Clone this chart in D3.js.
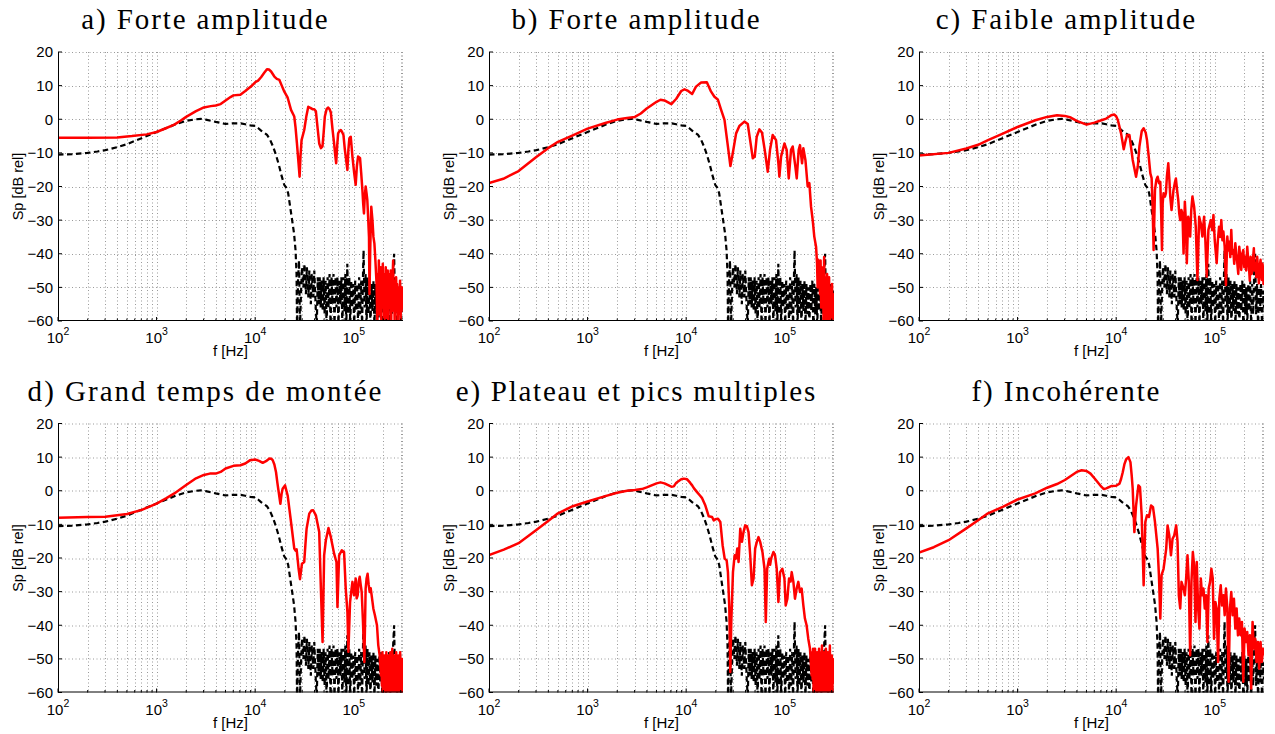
<!DOCTYPE html>
<html><head><meta charset="utf-8">
<script src="https://cdn.jsdelivr.net/npm/d3@7"></script>
<style>body{margin:0;background:#fff}</style>
</head><body>
<svg id="chart" width="1275" height="734"></svg>
<script>
// Each point: [log10(frequency in Hz), level in dB rel]
const panelTitles = ["a) Forte amplitude", "b) Forte amplitude", "c) Faible amplitude",
  "d) Grand temps de montée", "e) Plateau et pics multiples", "f) Incohérente"];
const xTickExponents = [2, 3, 4, 5];
const yTicks = [-60, -50, -40, -30, -20, -10, 0, 10, 20];
const xLabel = "f [Hz]";
const yLabel = "Sp [dB rel]";

// reference spectrum (black dashed), identical in every panel
const refSpectrum = [[2.00,-10.5],[2.15,-10.4],[2.30,-10.0],[2.40,-9.6],[2.48,-9.2],[2.60,-8.3],[2.70,-7.4],[2.80,-6.2],[2.90,-5.0],[3.00,-3.8],[3.10,-2.6],[3.20,-1.4],[3.30,-0.5],[3.40,0.0],[3.45,0.1],[3.50,-0.1],[3.60,-0.8],[3.70,-1.4],[3.78,-1.2],[3.85,-1.2],[3.90,-1.5],[3.95,-1.8],[4.00,-2.0],[4.03,-2.6],[4.06,-3.4],[4.09,-4.0],[4.12,-4.6],[4.15,-6.0],[4.18,-8.0],[4.21,-10.5],[4.24,-13.5],[4.27,-17.0],[4.295,-19.5],[4.315,-20.3],[4.335,-22.0],[4.355,-26.0],[4.375,-30.0],[4.395,-34.0],[4.41,-39.0],
 [4.42,-46],[4.425,-62],[4.435,-48],[4.445,-42],[4.455,-62],[4.465,-52],[4.475,-44],[4.49,-50],[4.50,-43],[4.515,-52],[4.525,-44],[4.54,-53],[4.55,-45],[4.565,-55],[4.575,-46],[4.59,-53],[4.60,-45],[4.615,-56],[4.625,-62],[4.635,-47],[4.645,-55],[4.655,-47],[4.665,-56],[4.675,-48],[4.685,-57],[4.695,-47],[4.705,-58],[4.715,-48],[4.725,-62],[4.735,-47],[4.745,-56],[4.755,-46],[4.765,-62],[4.775,-47],[4.785,-55],[4.795,-46],[4.805,-62],[4.815,-47],[4.825,-56],[4.835,-47],[4.845,-62],[4.855,-48],[4.865,-55],[4.875,-47],[4.885,-62],[4.895,-47],[4.905,-57],[4.915,-46],[4.925,-62],[4.935,-43],[4.945,-58],[4.955,-47],[4.965,-62],[4.975,-48],[4.985,-56],[4.995,-49],[5.005,-62],[5.015,-48],[5.025,-57],[5.035,-49],[5.045,-62],[5.055,-47],[5.065,-58],[5.075,-48],[5.085,-62],[5.095,-45],[5.10,-39],[5.11,-56],[5.12,-46],[5.13,-62],[5.14,-47],[5.15,-58],[5.16,-48],[5.17,-62],[5.18,-49],[5.19,-57],[5.20,-48],[5.21,-62],[5.22,-49],[5.23,-58],[5.24,-50],[5.25,-62],[5.26,-49],[5.27,-57],[5.28,-48],[5.29,-62],[5.30,-49],[5.31,-58],[5.32,-50],[5.33,-62],[5.34,-49],[5.35,-57],[5.36,-48],[5.37,-62],[5.38,-49],[5.39,-58],[5.40,-46],[5.41,-40],[5.42,-58],[5.43,-49],[5.44,-62],[5.45,-50],[5.46,-57],[5.47,-49],[5.48,-62],[5.49,-51],[5.50,-56]];

const redA = [[2.00,-5.5],[2.30,-5.5],[2.60,-5.4],[2.75,-5.0],[2.90,-4.5],[3.00,-3.8],[3.10,-2.6],[3.18,-1.6],[3.25,-0.3],[3.30,0.7],[3.40,2.4],[3.48,3.5],[3.55,3.9],[3.60,4.1],[3.65,4.5],[3.70,5.6],[3.75,6.6],[3.78,7.1],[3.85,7.3],[3.90,8.4],[3.96,9.8],[4.00,11.0],[4.03,11.5],[4.06,12.5],[4.094,13.9],[4.12,14.9],[4.14,14.8],[4.162,14.2],[4.195,12.7],[4.22,12.0],[4.246,11.7],[4.27,10.0],[4.296,8.2],[4.33,6.4],[4.364,2.8],[4.397,0.8],[4.41,-2.5],[4.424,-7.2],[4.44,-13],[4.451,-17.1],[4.46,-11],[4.471,-6.2],[4.498,-3.2],[4.52,1],[4.539,3.7],[4.56,3.4],[4.582,3.0],[4.60,3.0],[4.616,2.4],[4.635,-3],[4.65,-7.2],[4.667,-8.6],[4.683,-8.1],[4.695,-4],[4.707,0.8],[4.725,3.0],[4.74,3.5],[4.755,3.0],[4.768,2.0],[4.785,-3],[4.801,-7.2],[4.812,-10.5],[4.822,-13.1],[4.832,-8],[4.842,-4.2],[4.855,-3.5],[4.869,-3.2],[4.882,-3.8],[4.896,-4.7],[4.91,-9],[4.923,-12.1],[4.936,-15.1],[4.946,-9],[4.956,-5.7],[4.97,-5.2],[4.987,-11.1],[5.005,-16],[5.02,-19.5],[5.032,-14],[5.044,-11.1],[5.064,-11.5],[5.076,-16],[5.088,-21],[5.096,-25],[5.104,-28],[5.112,-23],[5.121,-20],[5.13,-22],[5.138,-24],[5.146,-29],[5.155,-35],[5.16,-52],[5.168,-38],[5.178,-26],[5.19,-30],[5.2,-35],[5.21,-37],[5.22,-42],[5.232,-49],
 [5.240,-62],[5.245,-46],[5.250,-55],[5.255,-42],[5.260,-58],[5.265,-47],[5.270,-52],[5.275,-44],[5.280,-60],[5.285,-48],[5.290,-56],[5.295,-43],[5.300,-53],[5.305,-46],[5.310,-62],[5.315,-49],[5.320,-55],[5.325,-44],[5.330,-59],[5.335,-47],[5.340,-54],[5.345,-45],[5.350,-61],[5.355,-48],[5.360,-56],[5.365,-46],[5.370,-52],[5.375,-45],[5.380,-62],[5.385,-50],[5.390,-57],[5.395,-47],[5.400,-42],[5.405,-55],[5.410,-48],[5.415,-60],[5.420,-51],[5.425,-57],[5.430,-47],[5.435,-54],[5.440,-49],[5.445,-62],[5.450,-51],[5.455,-58],[5.460,-50],[5.465,-55],[5.470,-48],[5.475,-61],[5.480,-52],[5.485,-57],[5.490,-50],[5.495,-56],[5.500,-52]];

const redB = [[2.00,-19],[2.145,-17.7],[2.30,-15.4],[2.48,-11.2],[2.60,-8.6],[2.70,-6.7],[2.85,-4.8],[3.00,-2.8],[3.18,-1.1],[3.30,-0.1],[3.40,0.4],[3.48,0.7],[3.54,1.7],[3.60,3.2],[3.70,5.2],[3.74,5.8],[3.78,5.6],[3.85,4.5],[3.90,6.1],[3.95,8.4],[3.983,8.9],[4.017,8.5],[4.061,7.5],[4.10,9.7],[4.152,10.9],[4.21,11.0],[4.253,8.2],[4.287,6.7],[4.321,5.9],[4.355,2.8],[4.389,-0.2],[4.422,-7.7],[4.449,-13.9],[4.473,-10.1],[4.507,-4.2],[4.54,-2.0],[4.591,-0.7],[4.625,-1.4],[4.649,-6.2],[4.676,-11.6],[4.696,-11.1],[4.716,-5.2],[4.743,-3.0],[4.77,-4.0],[4.797,-9.1],[4.828,-15.6],[4.851,-9.1],[4.878,-4.7],[4.912,-6.2],[4.936,-13.1],[4.946,-17.1],[4.963,-11.1],[4.997,-7.2],[5.02,-9.1],[5.041,-17.6],[5.064,-9.1],[5.081,-8.1],[5.108,-14.1],[5.122,-17.6],[5.142,-9.1],[5.155,-7.7],[5.176,-13.1],[5.189,-8.6],[5.21,-12.1],[5.233,-20],[5.25,-19],[5.267,-26],[5.284,-30],[5.30,-34.9],[5.318,-37.9],
 [5.328,-42.8],[5.334,-50],[5.34,-41.8],[5.346,-47],[5.352,-44],[5.358,-52],[5.364,-42],[5.37,-56],[5.376,-46],[5.382,-53],[5.388,-44],[5.394,-60],[5.40,-41],[5.405,-55],[5.41,-47],[5.415,-62],[5.42,-48],[5.425,-56],[5.43,-46],[5.435,-62],[5.44,-49],[5.445,-57],[5.45,-47],[5.455,-60],[5.46,-50],[5.465,-62],[5.47,-51],[5.475,-58],[5.48,-49],[5.485,-62],[5.49,-52],[5.495,-59],[5.50,-55]];

const redC = [[2.00,-10.8],[2.30,-10.0],[2.48,-8.7],[2.60,-7.6],[2.70,-6.2],[2.85,-4.3],[3.00,-2.3],[3.18,-0.3],[3.30,0.7],[3.40,1.2],[3.48,1.0],[3.54,0.5],[3.60,-0.5],[3.70,-1.6],[3.78,-1.0],[3.85,-0.3],[3.90,0.2],[3.95,1.2],[3.98,1.4],[4.00,0.9],[4.017,-0.2],[4.05,-4.2],[4.077,-8.9],[4.095,-6.5],[4.111,-4.7],[4.135,-4.7],[4.168,-12.1],[4.202,-17.1],[4.22,-14],[4.236,-8.1],[4.26,-3.5],[4.279,-2.7],[4.30,-4],[4.313,-6.2],[4.33,-11],[4.347,-16.1],[4.36,-17.5],[4.37,-26],[4.38,-38.9],[4.394,-21],[4.408,-18],[4.421,-17.1],[4.435,-19],[4.448,-18.6],[4.457,-28],[4.465,-38.9],[4.472,-25],[4.481,-22],[4.495,-23],[4.505,-22],[4.515,-17],[4.529,-13.1],[4.54,-18],[4.549,-23],[4.562,-27],[4.572,-24],[4.582,-21],[4.595,-19],[4.606,-17.6],[4.618,-21],[4.63,-24],[4.64,-28],[4.65,-30],[4.662,-27],[4.673,-28],[4.684,-39.9],[4.697,-24.5],[4.707,-30],[4.717,-42.8],[4.731,-29],[4.741,-31],[4.751,-34.9],[4.762,-27],[4.774,-23],[4.791,-26],[4.808,-32],[4.825,-47.8],[4.842,-29],[4.859,-31],[4.875,-34.9],[4.892,-29],[4.905,-36],[4.919,-46.8],[4.936,-32.9],[4.96,-30],[4.975,-33],[4.987,-28.5],[5.0,-35.9],[5.02,-42.8],[5.032,-36],[5.044,-32],[5.056,-35],[5.067,-30],[5.078,-36],[5.088,-33.4],[5.101,-37.9],[5.114,-49.3],[5.128,-34.9],[5.138,-39],[5.148,-36.4],[5.158,-41],[5.168,-32.9],[5.178,-40],[5.188,-38.9],[5.198,-43],[5.209,-36.9],[5.219,-40],[5.229,-42.8],[5.239,-46],[5.249,-37.9],[5.259,-41],[5.269,-44.8],[5.279,-40],[5.29,-38.9],[5.30,-44],[5.31,-40.9],[5.32,-45],[5.33,-37.9],[5.34,-42],[5.347,-43.8],[5.356,-48],[5.364,-40.9],[5.374,-46],[5.384,-44.8],[5.39,-41],[5.397,-38.4],[5.405,-45],[5.414,-42.8],[5.422,-47],[5.431,-40.9],[5.44,-45],[5.448,-48.8],[5.456,-44],[5.465,-41.8],[5.472,-46],[5.478,-47.8],[5.485,-43],[5.49,-44.8],[5.495,-49],[5.50,-47]];

const redD = [[2.00,-8.0],[2.30,-7.8],[2.48,-7.7],[2.70,-6.9],[2.85,-5.7],[3.00,-3.8],[3.10,-2.2],[3.18,-0.8],[3.30,1.7],[3.40,3.7],[3.48,4.7],[3.54,5.1],[3.60,5.1],[3.65,5.6],[3.70,6.6],[3.78,7.4],[3.85,7.6],[3.90,8.1],[3.95,9.1],[4.00,9.3],[4.04,8.9],[4.077,8.3],[4.11,8.8],[4.145,9.6],[4.165,9.5],[4.178,9.1],[4.195,7.8],[4.212,5.5],[4.225,2.5],[4.239,-0.4],[4.256,-3.9],[4.268,-1],[4.279,0.6],[4.303,1.6],[4.33,-1.4],[4.364,-9.3],[4.397,-17.2],[4.41,-17.8],[4.421,-17.4],[4.441,-23.2],[4.455,-26.3],[4.475,-21.7],[4.498,-21.2],[4.51,-16],[4.522,-11.3],[4.549,-6.8],[4.57,-5.9],[4.589,-5.8],[4.616,-7.3],[4.65,-12.3],[4.667,-29.1],[4.684,-45],[4.70,-19.2],[4.717,-14.8],[4.744,-11.1],[4.768,-13.8],[4.801,-18.7],[4.825,-21.2],[4.835,-34.6],[4.852,-19.2],[4.879,-17.7],[4.902,-18.2],[4.919,-29.1],[4.936,-36.0],[4.946,-47.9],[4.963,-33.1],[4.975,-30],[4.987,-27.1],[5.003,-31.1],[5.02,-26.1],[5.03,-32],[5.04,-31.1],[5.05,-27],[5.061,-25.6],[5.071,-28],[5.081,-30.1],[5.094,-39],[5.108,-50.9],[5.121,-29.1],[5.131,-26],[5.141,-24.7],[5.152,-28],[5.162,-30.1],[5.172,-29],[5.182,-31.1],[5.199,-35],[5.215,-37.0],[5.236,-40],[5.249,-45.9],[5.263,-48.9],
 [5.276,-54.9],[5.281,-49],[5.286,-58],[5.291,-48],[5.296,-62],[5.301,-50],[5.306,-57],[5.311,-49],[5.316,-62],[5.321,-51],[5.326,-56],[5.331,-48],[5.336,-62],[5.341,-50],[5.346,-58],[5.351,-49],[5.356,-62],[5.361,-52],[5.366,-57],[5.371,-48],[5.376,-62],[5.381,-50],[5.386,-59],[5.391,-47],[5.396,-62],[5.401,-51],[5.406,-58],[5.411,-49],[5.416,-62],[5.421,-50],[5.426,-57],[5.431,-48],[5.436,-62],[5.441,-52],[5.446,-59],[5.451,-49],[5.456,-62],[5.461,-51],[5.466,-56],[5.471,-48],[5.476,-62],[5.481,-52],[5.486,-58],[5.491,-50],[5.496,-60],[5.50,-55]];

const redE = [[2.00,-19.1],[2.15,-17.5],[2.30,-15.6],[2.48,-11.7],[2.60,-9.0],[2.70,-6.7],[2.85,-4.6],[3.00,-3.2],[3.18,-1.6],[3.30,-0.6],[3.40,0.0],[3.48,0.2],[3.55,0.5],[3.60,1.0],[3.70,2.2],[3.74,2.5],[3.78,2.2],[3.85,1.2],[3.875,1.3],[3.90,2.4],[3.95,3.4],[3.976,3.6],[4.01,3.4],[4.04,2.4],[4.061,1.6],[4.08,0.7],[4.111,-0.4],[4.14,-1.4],[4.162,-2.2],[4.195,-4.4],[4.229,-7.6],[4.263,-7.8],[4.28,-8.8],[4.296,-8.5],[4.323,-8.3],[4.347,-9.3],[4.37,-16.2],[4.391,-20.2],[4.411,-20.7],[4.424,-24.2],[4.438,-35.0],[4.448,-53.9],[4.458,-39],[4.475,-24.2],[4.492,-19.2],[4.505,-20.2],[4.519,-17.2],[4.532,-21.2],[4.549,-11.3],[4.566,-15.2],[4.582,-12.3],[4.599,-10.3],[4.616,-10.5],[4.633,-12.3],[4.65,-19.2],[4.667,-28.1],[4.684,-26.1],[4.70,-17.2],[4.717,-15.2],[4.734,-13.8],[4.751,-15.2],[4.774,-18.2],[4.795,-23.2],[4.808,-39.0],[4.822,-23.2],[4.842,-20.2],[4.852,-22],[4.862,-20.2],[4.886,-18.2],[4.902,-19.2],[4.919,-23.2],[4.936,-33.1],[4.953,-24.2],[4.976,-23.2],[4.997,-26.1],[5.01,-34.1],[5.027,-32.1],[5.044,-26.1],[5.06,-27],[5.071,-24.2],[5.088,-27.1],[5.104,-32.1],[5.121,-29.1],[5.138,-27.1],[5.155,-30.1],[5.172,-29.1],[5.189,-34.1],[5.205,-38],[5.222,-40],[5.239,-44],[5.256,-46.9],
 [5.273,-54.9],[5.278,-48],[5.283,-56],[5.288,-47],[5.293,-60],[5.298,-49],[5.303,-55],[5.308,-47],[5.313,-62],[5.318,-50],[5.323,-57],[5.328,-48],[5.333,-62],[5.338,-51],[5.343,-56],[5.348,-47],[5.353,-60],[5.358,-50],[5.363,-62],[5.368,-48],[5.373,-55],[5.378,-46],[5.383,-62],[5.388,-51],[5.393,-58],[5.398,-48],[5.403,-62],[5.408,-50],[5.413,-57],[5.418,-47],[5.423,-62],[5.428,-52],[5.433,-58],[5.438,-48],[5.443,-62],[5.448,-50],[5.453,-56],[5.458,-46],[5.463,-62],[5.468,-51],[5.473,-58],[5.478,-49],[5.483,-62],[5.488,-50],[5.493,-57],[5.50,-52]];

const redF = [[2.00,-18.4],[2.15,-16.8],[2.30,-14.7],[2.48,-11.2],[2.60,-8.8],[2.70,-6.7],[2.85,-4.8],[3.00,-2.6],[3.18,-0.8],[3.30,0.9],[3.40,2.0],[3.48,3.2],[3.54,4.4],[3.60,5.6],[3.65,6.1],[3.70,5.9],[3.74,5.1],[3.78,3.7],[3.85,1.2],[3.875,0.5],[3.90,0.7],[3.95,1.4],[4.00,1.5],[4.034,2.1],[4.05,3.5],[4.067,5.5],[4.085,8],[4.101,9.3],[4.125,10.0],[4.145,8.5],[4.158,4.5],[4.168,0.6],[4.185,-12.3],[4.202,-4.4],[4.226,1.6],[4.242,1.1],[4.259,-7.3],[4.279,-28.1],[4.296,-9.3],[4.313,-7.3],[4.333,-7.8],[4.354,-4.4],[4.374,-4.9],[4.394,-9.3],[4.421,-17.2],[4.434,-25.1],[4.448,-38],[4.461,-25.1],[4.481,-23.2],[4.495,-20.2],[4.508,-17.2],[4.522,-10.3],[4.539,-13.3],[4.556,-19.2],[4.572,-14.3],[4.589,-13.3],[4.609,-10.3],[4.623,-15.2],[4.636,-31.1],[4.65,-35],[4.663,-27.1],[4.684,-29.1],[4.697,-31.1],[4.71,-26.1],[4.724,-19.2],[4.737,-27.1],[4.751,-48.9],[4.764,-27.1],[4.778,-18.2],[4.791,-22.2],[4.805,-39],[4.818,-21.2],[4.832,-35],[4.845,-41],[4.859,-26.1],[4.872,-31.1],[4.886,-29.1],[4.899,-35],[4.912,-31.1],[4.926,-45],[4.939,-29.1],[4.953,-27.1],[4.966,-23.2],[4.98,-26.1],[4.993,-44],[5.007,-33.1],[5.02,-35],[5.034,-50.9],[5.047,-32.1],[5.061,-28.1],[5.074,-34.1],[5.088,-31.1],[5.101,-37],[5.114,-29.1],[5.128,-35],[5.141,-56.8],[5.155,-35],[5.168,-30.1],[5.182,-37],[5.195,-32.1],[5.209,-41],[5.222,-35],[5.236,-43],[5.249,-38],[5.263,-43],[5.276,-39],[5.29,-56.8],[5.303,-41],[5.316,-45],[5.33,-42],[5.343,-48.9],[5.357,-43],[5.37,-58.8],[5.384,-39],[5.397,-46.9],[5.411,-44],[5.424,-50.9],[5.438,-45],[5.451,-52.9],[5.465,-45],[5.478,-50.9],[5.49,-47],[5.50,-49]];

const redSeries = [redA, redB, redC, redD, redE, redF];

// ---- layout ----
const svg = d3.select("#chart");
const W = 345, H = 269;
const colLeft = [58, 489, 919];
const rowTop = [52, 423.5];
const xMax = Math.pow(10, 5.5);
const sans = "'Liberation Sans', Arial, Helvetica, sans-serif";

panelTitles.forEach((title, i) => {
  const col = i % 3, row = Math.floor(i / 3);
  const g = svg.append("g").attr("transform", `translate(${colLeft[col]},${rowTop[row]})`);
  const x = d3.scaleLog().domain([100, xMax]).range([0, W]);
  const y = d3.scaleLinear().domain([-60, 20]).range([H, 0]);

  // grid
  const xt = x.ticks().filter(v => v <= xMax);
  const grid = g.append("g").attr("stroke", "#9a9a9a").attr("stroke-width", 1)
    .attr("stroke-dasharray", "1,2.5").attr("fill", "none");
  xt.forEach(v => {
    const px = Math.round(x(v)) + 0.5;
    if (px > 1) grid.append("line").attr("x1", px).attr("x2", px).attr("y1", 0).attr("y2", H);
  });
  yTicks.forEach(v => {
    const py = Math.round(y(v)) + 0.5;
    if (v > -60) grid.append("line").attr("x1", 0).attr("x2", W).attr("y1", py).attr("y2", py);
  });
  grid.append("line").attr("x1", W - 0.5).attr("x2", W - 0.5).attr("y1", 0).attr("y2", H);

  // clip
  const cid = "clip" + i;
  g.append("clipPath").attr("id", cid).append("rect").attr("x", 0).attr("y", 0).attr("width", W).attr("height", H);

  const line = d3.line().x(d => x(Math.pow(10, d[0]))).y(d => y(d[1]));
  const plot = g.append("g").attr("clip-path", `url(#${cid})`);
  plot.append("path").datum(refSpectrum).attr("d", line).attr("fill", "none")
    .attr("stroke", "#000").attr("stroke-width", 2.2).attr("stroke-dasharray", "5.5,3.5");
  plot.append("path").datum(redSeries[i]).attr("d", line).attr("fill", "none")
    .attr("stroke", "#ff0000").attr("stroke-width", 2.5).attr("stroke-linejoin", "round");

  // axes lines
  g.append("line").attr("x1", 0.5).attr("x2", 0.5).attr("y1", 0).attr("y2", H).attr("stroke", "#000");
  g.append("line").attr("x1", 0).attr("x2", W).attr("y1", H - 0.5).attr("y2", H - 0.5).attr("stroke", "#000");

  // y ticks + labels
  yTicks.forEach(v => {
    const py = y(v);
    g.append("line").attr("x1", 0).attr("x2", 4).attr("y1", py).attr("y2", py).attr("stroke", "#000");
    g.append("text").attr("x", -5).attr("y", py).attr("dy", "0.36em").attr("text-anchor", "end")
      .attr("font-family", sans).attr("font-size", 15).text(d3.format("d")(v));
  });
  // x ticks
  xt.forEach(v => {
    const px = x(v);
    const major = Math.abs(Math.log10(v) - Math.round(Math.log10(v))) < 1e-9;
    g.append("line").attr("x1", px).attr("x2", px).attr("y1", H).attr("y2", H - (major ? 4 : 2.5)).attr("stroke", "#000");
  });
  xTickExponents.forEach(e => {
    const t = g.append("text").attr("x", x(Math.pow(10, e))).attr("y", H + 22).attr("text-anchor", "middle")
      .attr("font-family", sans).attr("font-size", 15);
    t.append("tspan").text("10");
    t.append("tspan").attr("dy", -8).attr("font-size", 10.5).text(e);
  });
  g.append("text").attr("x", W / 2).attr("y", H + 35).attr("text-anchor", "middle")
    .attr("font-family", sans).attr("font-size", 15).text(xLabel);
  g.append("text").attr("transform", `translate(-35,${H / 2}) rotate(-90)`).attr("text-anchor", "middle")
    .attr("font-family", sans).attr("font-size", 14.5).text(yLabel);
  const tt = g.append("text").attr("x", W / 2 - 26).attr("y", row === 0 ? -23 : -22.5).attr("text-anchor", "middle")
    .attr("font-family", "'Liberation Serif', 'Times New Roman', serif").attr("font-size", 29).text(title);
  const natural = tt.node().getComputedTextLength();
  tt.attr("textLength", natural * 1.15).attr("lengthAdjust", "spacing");
});
</script>
</body></html>
